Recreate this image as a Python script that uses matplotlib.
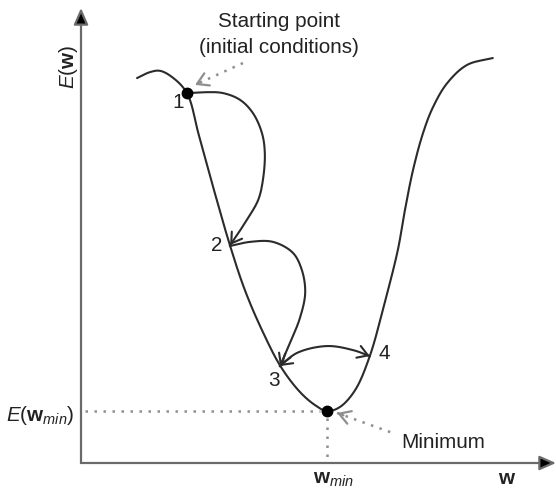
import numpy as np
import matplotlib
matplotlib.use("Agg")
import matplotlib.pyplot as plt

plt.rcParams['font.family'] = ['Liberation Sans', 'DejaVu Sans']
plt.rcParams['mathtext.fontset'] = 'custom'
plt.rcParams['mathtext.rm'] = 'Liberation Sans'
plt.rcParams['mathtext.it'] = 'Liberation Sans:italic'
plt.rcParams['mathtext.bf'] = 'Liberation Sans:bold'

# ---- data (diagram units: w on x, E(w) on y, both 0..10) ----
curve_w = [1.18, 1.45, 1.66, 1.92, 2.23, 2.48, 2.81, 3.14, 3.45, 3.81, 4.21, 4.61,
           4.93, 5.18, 5.45, 5.77, 6.08, 6.38, 6.67, 6.82, 6.99, 7.20, 7.41, 7.71,
           8.13, 8.67]
curve_E = [8.46, 8.59, 8.62, 8.48, 8.13, 7.21, 5.96, 4.77, 3.80, 2.92, 2.11, 1.56,
           1.27, 1.14, 1.23, 1.60, 2.35, 3.47, 4.68, 5.56, 6.44, 7.25, 7.82, 8.35,
           8.75, 8.90]

jump1_w = [2.23, 2.61, 2.99, 3.35, 3.62, 3.81, 3.87, 3.83, 3.73, 3.49, 3.31, 3.14]
jump1_E = [8.13, 8.15, 8.13, 7.98, 7.69, 7.25, 6.81, 6.22, 5.78, 5.34, 5.05, 4.79]
jump2_w = [3.14, 3.56, 4.04, 4.46, 4.65, 4.72, 4.61, 4.40, 4.19]
jump2_E = [4.77, 4.86, 4.86, 4.62, 4.24, 3.74, 3.19, 2.64, 2.13]
jump3_w = [4.19, 4.55, 5.18, 5.73, 6.08]
jump3_E = [2.13, 2.42, 2.57, 2.48, 2.35]

start_pt = (2.23, 8.13)
min_pt = (5.18, 1.14)

step_labels = ['1', '2', '3', '4']
step_label_w = [2.04, 2.86, 4.06, 6.38]
step_label_E = [7.93, 4.79, 1.82, 2.40]

SX, SY = 47.5, 45.5  # pixels per unit (for even curve parametrisation)


def smooth(xs, ys, n=24, alpha=0.5):
    P = np.column_stack([np.asarray(xs) * SX, np.asarray(ys) * SY]).astype(float)
    P = np.vstack([2 * P[0] - P[1], P, 2 * P[-1] - P[-2]])
    out = []
    for i in range(1, len(P) - 2):
        p0, p1, p2, p3 = P[i - 1], P[i], P[i + 1], P[i + 2]
        t0 = 0.0
        t1 = t0 + np.linalg.norm(p1 - p0) ** alpha
        t2 = t1 + np.linalg.norm(p2 - p1) ** alpha
        t3 = t2 + np.linalg.norm(p3 - p2) ** alpha
        t = np.linspace(t1, t2, n, endpoint=False)[:, None]
        A1 = (t1 - t) / (t1 - t0) * p0 + (t - t0) / (t1 - t0) * p1
        A2 = (t2 - t) / (t2 - t1) * p1 + (t - t1) / (t2 - t1) * p2
        A3 = (t3 - t) / (t3 - t2) * p2 + (t - t2) / (t3 - t2) * p3
        B1 = (t2 - t) / (t2 - t0) * A1 + (t - t0) / (t2 - t0) * A2
        B2 = (t3 - t) / (t3 - t1) * A2 + (t - t1) / (t3 - t1) * A3
        C = (t2 - t) / (t2 - t1) * B1 + (t - t1) / (t2 - t1) * B2
        out.append(C)
    out.append(P[-2][None, :])
    out = np.vstack(out)
    return out[:, 0] / SX, out[:, 1] / SY


W, H = 556, 490
fig = plt.figure(figsize=(W / 100, H / 100), dpi=100)
ax = fig.add_axes([81 / W, (H - 463) / H, (W - 81) / W, (463 - 8) / H])
ax.set_xlim(0, 10)
ax.set_ylim(0, 10)
ax.axis('off')

line_c = '#2b2b2b'
dot_c = '#8f8f8f'
axis_c = '#6a6a6a'

# axes with arrowheads
for tip in [(0, 10), (10, 0)]:
    ax.annotate('', xy=tip, xytext=(0, 0), xycoords='data',
                arrowprops=dict(arrowstyle='-|>,head_length=0.5,head_width=0.22',
                                ec=axis_c, fc='black', lw=1.6, shrinkA=0, shrinkB=0,
                                mutation_scale=20), annotation_clip=False)

# error curve
cx, cy = smooth(curve_w, curve_E)
ax.plot(cx, cy, color=line_c, lw=1.5, clip_on=False, solid_capstyle='round')


# jumps with arrowheads
def arc(ws, es, both=False):
    x, y = smooth(ws, es)
    ax.plot(x, y, color=line_c, lw=1.5, clip_on=False)
    ax.annotate('', xy=(x[-1], y[-1]), xytext=(x[-6], y[-6]),
                arrowprops=dict(arrowstyle='->,head_length=0.45,head_width=0.28',
                                color=line_c, lw=1.5, shrinkA=0, shrinkB=0,
                                mutation_scale=16))
    if both:
        ax.annotate('', xy=(x[0], y[0]), xytext=(x[5], y[5]),
                    arrowprops=dict(arrowstyle='->,head_length=0.45,head_width=0.28',
                                    color=line_c, lw=1.5, shrinkA=0, shrinkB=0,
                                    mutation_scale=16))


arc(jump1_w, jump1_E)
arc(jump2_w, jump2_E)
arc(jump3_w, jump3_E, both=True)

# points
ax.plot([start_pt[0]], [start_pt[1]], 'o', color='black', ms=7.5, clip_on=False, zorder=5)
ax.plot([min_pt[0]], [min_pt[1]], 'o', color='black', ms=7.5, clip_on=False, zorder=5)

# dotted guide lines to the minimum
ax.plot([0.08, min_pt[0] - 0.15], [min_pt[1], min_pt[1]], color=dot_c, lw=1.8,
        ls=(0, (1, 2.6)), clip_on=False)
ax.plot([min_pt[0], min_pt[0]], [min_pt[1] - 0.15, 0.02], color=dot_c, lw=1.8,
        ls=(0, (1, 2.6)), clip_on=False)


# dotted pointer arrows
def pointer(tail, tip):
    ax.plot([tail[0], tip[0]], [tail[1], tip[1]], color=dot_c, lw=1.8,
            ls=(0, (1, 2.6)), clip_on=False)
    v = np.array(tip) - np.array(tail)
    back = np.array(tip) - 0.12 * v
    ax.annotate('', xy=tip, xytext=back,
                arrowprops=dict(arrowstyle='->,head_length=0.5,head_width=0.3',
                                color=dot_c, lw=1.6, shrinkA=0, shrinkB=0,
                                mutation_scale=16))


pointer((3.41, 8.79), (2.40, 8.31))
pointer((6.51, 0.68), (5.39, 1.10))

fs = 14.9
txt_c = '#222222'
for lab, lw_, le in zip(step_labels, step_label_w, step_label_E):
    ax.text(lw_, le, lab, fontsize=fs, ha='center', va='center', color=txt_c)

ax.text(4.17, 9.71, 'Starting point', fontsize=fs, ha='center', va='center', color=txt_c, clip_on=False)
ax.text(4.17, 9.14, '(initial conditions)', fontsize=fs, ha='center', va='center', color=txt_c, clip_on=False)
ax.text(6.74, 0.44, 'Minimum', fontsize=fs, ha='left', va='center', color=txt_c)

ax.text(-0.27, 8.70, r'$E(\mathbf{w})$', fontsize=fs, rotation=90, ha='center', va='center', color=txt_c)
ax.text(-0.15, 0.92, r'$E(\mathbf{w}_{min})$', fontsize=fs, ha='right', va='baseline', color=txt_c)
ax.text(5.31, -0.46, r'$\mathbf{w}_{min}$', fontsize=fs, ha='center', va='baseline', color=txt_c)
ax.text(8.97, -0.46, r'$\mathbf{w}$', fontsize=fs, ha='center', va='baseline', color=txt_c)

fig.savefig('out.png', dpi=100)
